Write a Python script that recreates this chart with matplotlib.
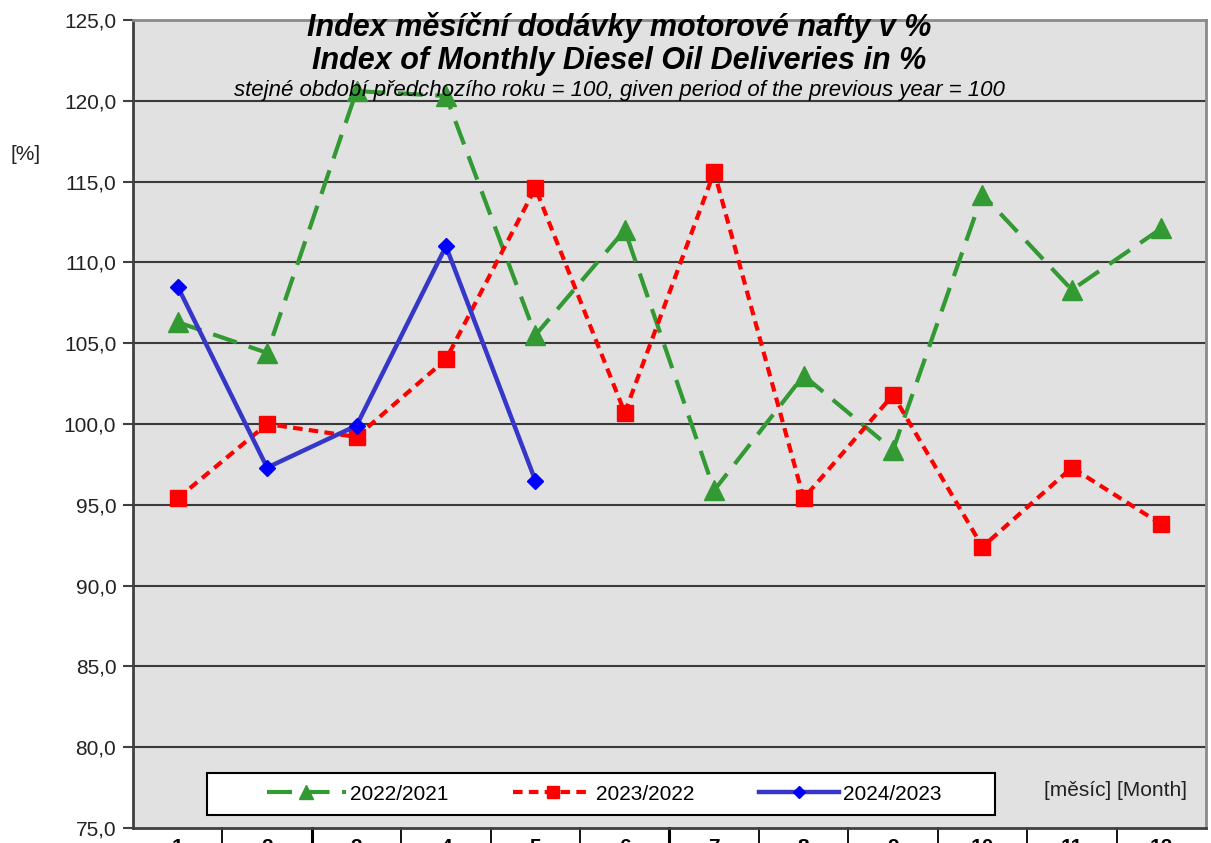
import matplotlib
matplotlib.use("Agg")
import matplotlib.pyplot as plt
from matplotlib.patches import Rectangle

months = list(range(1, 13))
month_labels = [str(m) for m in months]
s_2022_2021 = [106.3, 104.4, 120.6, 120.3, 105.5, 112.0, 95.9, 103.0, 98.4, 114.2, 108.3, 112.1]
s_2023_2022 = [95.4, 100.0, 99.2, 104.0, 114.6, 100.7, 115.6, 95.4, 101.8, 92.4, 97.3, 93.8]
s_2024_2023 = [108.5, 97.3, 99.9, 111.0, 96.5]
months_2024 = months[:len(s_2024_2023)]
y_ticks = [75, 80, 85, 90, 95, 100, 105, 110, 115, 120, 125]

plt.rcParams['font.family'] = ['Liberation Sans', 'DejaVu Sans']

W, H = 1211, 843
fig = plt.figure(figsize=(W / 100, H / 100), dpi=100)
ax = fig.add_axes([133 / W, 1 - 828 / H, (1206 - 133) / W, (828 - 20) / H])
ax.set_facecolor('#E1E1E1')

ax.set_xlim(0.5, 12.5)
ax.set_ylim(75, 125)
ax.set_yticks(y_ticks)
ax.set_yticklabels([f"{v:.1f}".replace('.', ',') for v in y_ticks], fontsize=15, color='#222222')
ax.tick_params(axis='y', length=7, width=1.5, color='#404040', pad=5)
ax.set_xticks([])
for v in y_ticks[1:-1]:
    ax.axhline(v, color='#3a3a3a', lw=1.5, zorder=1)

for side in ['left', 'bottom']:
    ax.spines[side].set_color('#404040')
    ax.spines[side].set_linewidth(2)
for side in ['top', 'right']:
    ax.spines[side].set_color('#8a8a8a')
    ax.spines[side].set_linewidth(2)

green = '#339933'
red = '#FF0000'
blue_line = '#3636C8'
blue_mk = '#0000FF'

l1, = ax.plot(months, s_2022_2021, color=green, lw=3, dashes=(6, 3),
              marker='^', ms=14, mfc=green, mec=green, zorder=3)
l2, = ax.plot(months, s_2023_2022, color=red, lw=3, dashes=(2.3, 1.5),
              marker='s', ms=11, mfc=red, mec=red, zorder=4)
l3, = ax.plot(months_2024, s_2024_2023, color=blue_line, lw=3.2,
              marker='D', ms=8, mfc=blue_mk, mec=blue_mk, zorder=5)

# title block
cx = (619 - 133) / 1073
ax.text(cx, 0.9905, "Index měsíční dodávky motorové nafty v %", transform=ax.transAxes,
        ha='center', va='center', fontsize=22, fontweight='bold', fontstyle='italic', zorder=6)
ax.text(cx, 0.9495, "Index of Monthly Diesel Oil Deliveries in %", transform=ax.transAxes,
        ha='center', va='center', fontsize=22, fontweight='bold', fontstyle='italic', zorder=6)
ax.text(cx, 0.913, "stejné období předchozího roku = 100, given period of the previous year = 100",
        transform=ax.transAxes, ha='center', va='center', fontsize=16, fontstyle='italic', zorder=6)

# legend box
ax.add_patch(Rectangle(((207 - 133) / 1073, (828 - 815) / 808), (995 - 207) / 1073, (815 - 773) / 808,
                       transform=ax.transAxes, facecolor='white', edgecolor='black', lw=1.5, zorder=7))
leg = ax.legend([l1, l2, l3], ["2022/2021", "2023/2022", "2024/2023"], loc='center',
                bbox_to_anchor=((604 - 133) / 1073, (828 - 794) / 808), ncol=3, frameon=False,
                fontsize=15, handlelength=3.8, handletextpad=0.2, columnspacing=3.1, markerscale=0.75)
leg.set_zorder(8)

ax.text(1116 / W, 1 - 790 / H, "[měsíc] [Month]", transform=fig.transFigure,
        ha='center', va='center', fontsize=15, color='#222222')
fig.text(26 / W, 1 - 155 / H, "[%]", ha='center', va='center', fontsize=15, color='#222222')

# month table below axis
for b in [i + 0.5 for i in range(1, 12)]:
    lw = 2.2 if b in (2.5, 6.5) else 1.3
    ax.plot([b, b], [0, -0.03], transform=ax.get_xaxis_transform(), color='black', lw=lw, clip_on=False)
for m, lab in zip(months, month_labels):
    ax.annotate(lab, xy=(m, 0), xycoords=('data', 'axes fraction'), xytext=(0, -7.5),
                textcoords='offset points', ha='center', va='top', fontsize=15,
                fontweight='bold', annotation_clip=False)

fig.savefig('out.png', dpi=100)
